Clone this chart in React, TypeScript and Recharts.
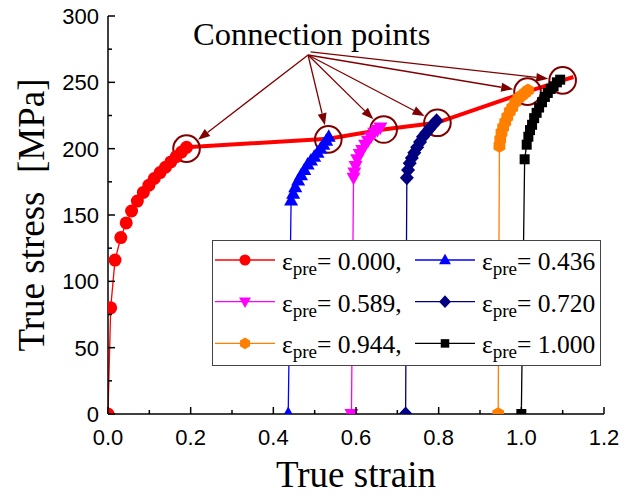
import React from "react";
import { LineChart, Line, XAxis, YAxis, Legend, ReferenceLine, ReferenceDot } from "recharts";

// pre-strain curves (true strain / true stress)
const pre000X = [0, 0.0065, 0.017, 0.031, 0.044, 0.057, 0.071, 0.0855, 0.099, 0.112, 0.126, 0.139, 0.152, 0.165, 0.178, 0.19];
const pre000Y = [0, 80, 116, 133, 144, 153, 160.5, 167, 172.5, 177.5, 182, 186, 190, 194, 197.5, 201];
const pre436X = [0.436, 0.443, 0.448, 0.453, 0.46, 0.467, 0.475, 0.483, 0.491, 0.499, 0.507, 0.514, 0.521, 0.528, 0.534];
const pre436Y = [0, 161, 166, 171, 176, 180, 184, 188, 191, 194, 197, 200, 203, 206, 209];
const pre589X = [0.589, 0.594, 0.596, 0.599, 0.603, 0.609, 0.615, 0.622, 0.629, 0.636, 0.644, 0.652, 0.659];
const pre589Y = [0, 178, 182, 187, 192, 196, 199, 203, 206, 209, 212, 214, 216];
const pre720X = [0.72, 0.723, 0.726, 0.73, 0.735, 0.741, 0.748, 0.755, 0.762, 0.77, 0.778, 0.786, 0.795];
const pre720Y = [0, 178, 184, 189, 193, 197, 201, 205, 209, 212, 215, 218, 221];
const pre944X = [0.944, 0.947, 0.949, 0.952, 0.956, 0.961, 0.966, 0.972, 0.978, 0.985, 0.993, 1.001, 1.009, 1.016];
const pre944Y = [0, 202, 207, 212, 216, 220, 224, 228, 231, 235, 238, 240, 242, 244];
const pre1000X = [1.0, 1.008, 1.013, 1.017, 1.021, 1.026, 1.031, 1.037, 1.043, 1.05, 1.057, 1.064, 1.071, 1.078, 1.086, 1.094];
const pre1000Y = [0, 192, 203, 209, 214, 218, 223, 227, 231, 235, 239, 242, 245, 247, 250, 252];

// connection points
const connX = [0.19, 0.533, 0.666, 0.795, 1.015, 1.1, 1.126];
const connY = [201, 207.5, 214.5, 219.5, 243, 251.5, 254];
const circX = [0.19, 0.533, 0.667, 0.797, 1.015, 1.1];
const circY = [200, 207, 214.5, 219.5, 243, 251.5];
const arrowFromX = [0.484, 0.484, 0.484, 0.484, 0.484, 0.49];
const arrowFromY = [270.6, 270.6, 270.6, 270.6, 270.6, 273];

const legendLabels = ["0.000,", "0.436", "0.589,", "0.720", "0.944,", "1.000"];

const xTicks = [0, 0.1, 0.2, 0.3, 0.4, 0.5, 0.6, 0.7, 0.8, 0.9, 1.0, 1.1, 1.2];
const yTicks = [0, 25, 50, 75, 100, 125, 150, 175, 200, 225, 250, 275, 300];

const toRows = (xs: number[], ys: number[]) => xs.map((x, i) => ({ x, y: ys[i] }));

const series = [
  { name: "pre000", data: toRows(pre000X, pre000Y), color: "#FF0000", shape: "circle" },
  { name: "pre436", data: toRows(pre436X, pre436Y), color: "#0000FF", shape: "up" },
  { name: "pre589", data: toRows(pre589X, pre589Y), color: "#FF00FF", shape: "down" },
  { name: "pre720", data: toRows(pre720X, pre720Y), color: "#000080", shape: "diamond" },
  { name: "pre944", data: toRows(pre944X, pre944Y), color: "#FF8000", shape: "hexagon" },
  { name: "pre1000", data: toRows(pre1000X, pre1000Y), color: "#000000", shape: "square" },
];

const DARK = "#800000";
const SERIF = "'Liberation Serif', 'Times New Roman', serif";
const SANS = "'Liberation Sans', Arial, sans-serif";

function Marker({ cx, cy, shape, color, s = 1 }: any) {
  const k = (v: number) => v * s;
  if (shape === "circle") return <circle cx={cx} cy={cy} r={k(6.5)} fill={color} />;
  if (shape === "up")
    return <polygon points={`${cx},${cy - k(7.5)} ${cx - k(7)},${cy + k(5)} ${cx + k(7)},${cy + k(5)}`} fill={color} />;
  if (shape === "down")
    return <polygon points={`${cx},${cy + k(7.5)} ${cx - k(7)},${cy - k(5)} ${cx + k(7)},${cy - k(5)}`} fill={color} />;
  if (shape === "diamond")
    return <polygon points={`${cx},${cy - k(7.5)} ${cx + k(7)},${cy} ${cx},${cy + k(7.5)} ${cx - k(7)},${cy}`} fill={color} />;
  if (shape === "hexagon") {
    const pts = [-90, -30, 30, 90, 150, 210]
      .map((a) => `${cx + k(6.8) * Math.cos((a * Math.PI) / 180)},${cy + k(6.8) * Math.sin((a * Math.PI) / 180)}`)
      .join(" ");
    return <polygon points={pts} fill={color} />;
  }
  return <rect x={cx - k(5)} y={cy - k(5)} width={k(10)} height={k(10)} fill={color} />;
}

const XTick = (props: any) => {
  const { x, y, payload } = props;
  const major = Math.round(payload.value * 10) % 2 === 0;
  return (
    <g>
      <line x1={x} y1={y} x2={x} y2={y - (major ? 7 : 4)} stroke="#000" strokeWidth={1.5} />
      {major && (
        <text x={x} y={y + 31} textAnchor="middle" fontFamily={SANS} fontSize={22} fill="#000">
          {payload.value.toFixed(1)}
        </text>
      )}
    </g>
  );
};

const YTick = (props: any) => {
  const { x, y, payload } = props;
  const major = payload.value % 50 === 0;
  return (
    <g>
      <line x1={x} y1={y} x2={x + (major ? 7 : 4)} y2={y} stroke="#000" strokeWidth={1.5} />
      {major && (
        <text x={x - 9} y={y + 8} textAnchor="end" fontFamily={SANS} fontSize={22} fill="#000">
          {payload.value}
        </text>
      )}
    </g>
  );
};

const ArrowShape = (p: any) => {
  const { x1, y1, x2, y2 } = p;
  const dx = x2 - x1;
  const dy = y2 - y1;
  const len = Math.hypot(dx, dy);
  const ux = dx / len;
  const uy = dy / len;
  const tx = x2 - ux * 14.5;
  const ty = y2 - uy * 14.5;
  const bx = tx - ux * 12;
  const by = ty - uy * 12;
  const nx = -uy;
  const ny = ux;
  return (
    <g>
      <line x1={x1} y1={y1} x2={bx} y2={by} stroke={DARK} strokeWidth={1.3} />
      <polygon points={`${tx},${ty} ${bx + nx * 4.5},${by + ny * 4.5} ${bx - nx * 4.5},${by - ny * 4.5}`} fill={DARK} />
    </g>
  );
};

const renderLegend = () => (
  <div style={{ width: 389, height: 126, background: "#fff", border: "1.5px solid #444", boxSizing: "border-box" }}>
    <svg width={386} height={123}>
      {legendLabels.map((label, i) => {
        const s = series[i];
        const col = i % 2;
        const row = Math.floor(i / 2);
        const x0 = col === 0 ? 2 : 202;
        const cy = 19 + row * 41.7;
        return (
          <g key={s.name}>
            <line x1={x0} y1={cy} x2={x0 + 60} y2={cy} stroke={s.color} strokeWidth={1.3} />
            <Marker cx={x0 + 30} cy={cy} shape={s.shape} color={s.color} s={0.85} />
            <text x={x0 + 67} y={cy + 10} fontFamily={SERIF} fontSize={25.5} fill="#000">
              <tspan>ε</tspan>
              <tspan dy={5} fontSize={19}>pre</tspan>
              <tspan dy={-5}>= {label}</tspan>
            </text>
          </g>
        );
      })}
    </svg>
  </div>
);

export default function App() {
  return (
    <div style={{ position: "absolute", left: 0, top: 0, width: 632, height: 498, background: "#fff" }}>
      <LineChart width={632} height={498} margin={{ top: 16, right: 28, bottom: 0, left: 0 }}>
        <XAxis
          dataKey="x"
          type="number"
          domain={[0, 1.2]}
          ticks={xTicks}
          interval={0}
          allowDataOverflow
          height={84}
          tickSize={0}
          tickMargin={0}
          tickLine={false}
          tick={XTick}
          axisLine={{ stroke: "#000", strokeWidth: 1.5 }}
          label={(p: any) => (
            <text x={356} y={487} textAnchor="middle" fontFamily={SERIF} fontSize={37} fill="#000">
              True strain
            </text>
          )}
        />
        <YAxis
          type="number"
          domain={[0, 300]}
          ticks={yTicks}
          interval={0}
          allowDataOverflow
          width={108}
          tickSize={0}
          tickMargin={0}
          tickLine={false}
          tick={YTick}
          axisLine={{ stroke: "#000", strokeWidth: 1.5 }}
          label={(p: any) => (
            <text
              x={44}
              y={215}
              transform="rotate(-90 44 215)"
              textAnchor="middle"
              fontFamily={SERIF}
              fontSize={37}
              fill="#000"
              style={{ whiteSpace: "pre" }}
            >
              {"True stress  [MPa]"}
            </text>
          )}
        />
        {series.map((s) => (
          <Line
            key={s.name}
            data={s.data}
            dataKey="y"
            type="linear"
            stroke={s.color}
            strokeWidth={1.3}
            isAnimationActive={false}
            dot={(p: any) => <Marker key={`${s.name}-${p.index}`} cx={p.cx} cy={p.cy} shape={s.shape} color={s.color} />}
            activeDot={false}
          />
        ))}
        <Line
          data={toRows(connX, connY)}
          dataKey="y"
          type="linear"
          stroke="#FF0000"
          strokeWidth={4}
          dot={false}
          activeDot={false}
          isAnimationActive={false}
        />
        {circX.map((x, i) => (
          <ReferenceDot key={`c${i}`} x={x} y={circY[i]} r={13.3} fill="none" stroke={DARK} strokeWidth={2} />
        ))}
        {circX.map((x, i) => (
          <ReferenceLine
            key={`a${i}`}
            segment={[
              { x: arrowFromX[i], y: arrowFromY[i] },
              { x, y: circY[i] },
            ]}
            shape={ArrowShape}
          />
        ))}
        <Legend
          layout="horizontal"
          verticalAlign="middle"
          align="center"
          content={renderLegend}
          wrapperStyle={{ left: 212, top: 240, width: 389, height: 126 }}
        />
      </LineChart>
      <svg width={632} height={60} style={{ position: "absolute", left: 0, top: 0, pointerEvents: "none" }}>
        <text x={193} y={45} fontFamily={SERIF} fontSize={32.5} fill="#000">
          Connection points
        </text>
      </svg>
    </div>
  );
}
